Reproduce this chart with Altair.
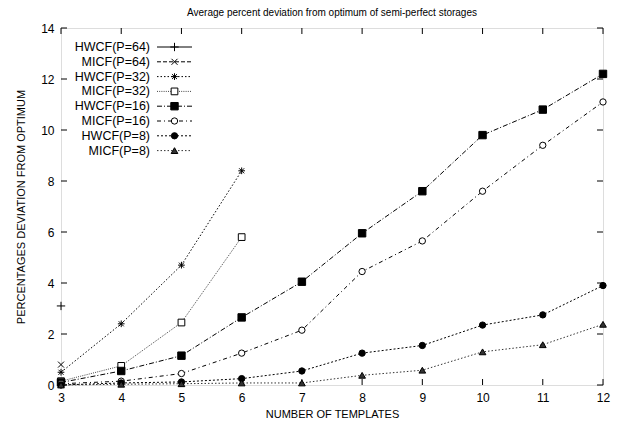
import altair as alt
import pandas as pd

# ---------------- data ----------------
series_names = ["HWCF(P=64)", "MICF(P=64)", "HWCF(P=32)", "MICF(P=32)",
                "HWCF(P=16)", "MICF(P=16)", "HWCF(P=8)", "MICF(P=8)"]

templates_full = [3, 4, 5, 6, 7, 8, 9, 10, 11, 12]
templates_p32 = [3, 4, 5, 6]

hwcf64_x = [3]
hwcf64_y = [3.1]
micf64_x = [3]
micf64_y = [0.8]
hwcf32_y = [0.5, 2.4, 4.7, 8.4]
micf32_y = [0.15, 0.75, 2.45, 5.8]
hwcf16_y = [0.1, 0.55, 1.15, 2.65, 4.05, 5.95, 7.6, 9.8, 10.8, 12.2]
micf16_y = [0.05, 0.15, 0.45, 1.25, 2.15, 4.45, 5.65, 7.6, 9.4, 11.1]
hwcf8_y = [0.0, 0.08, 0.12, 0.25, 0.55, 1.25, 1.55, 2.35, 2.75, 3.9]
micf8_y = [0.0, 0.03, 0.05, 0.08, 0.08, 0.38, 0.58, 1.3, 1.58, 2.38]

y_ticks = [0, 2, 4, 6, 8, 10, 12, 14]
x_ticks = [3, 4, 5, 6, 7, 8, 9, 10, 11, 12]

# ---------------- styling ----------------
W, H = 542, 357
FONT = "Liberation Sans"

PLUS = "M-1,0L1,0M0,-1L0,1"
XCROSS = "M-1,-1L1,1M-1,1L1,-1"
STAR = "M-1,0L1,0M0,-1L0,1M-0.75,-0.75L0.75,0.75M-0.75,0.75L0.75,-0.75"

styles = {
    "HWCF(P=64)": dict(dash=[1, 0], shape=PLUS, filled=False, size=70, color="black"),
    "MICF(P=64)": dict(dash=[4, 2], shape=XCROSS, filled=False, size=36, color="black"),
    "HWCF(P=32)": dict(dash=[1.5, 2], shape=STAR, filled=False, size=45, color="black"),
    "MICF(P=32)": dict(dash=[1, 1.2], shape="square", filled=False, size=45, color="#444444"),
    "HWCF(P=16)": dict(dash=[5, 2, 1, 2], shape="square", filled=True, size=55, color="black"),
    "MICF(P=16)": dict(dash=[4, 3, 1, 3], shape="circle", filled=False, size=40, color="black"),
    "HWCF(P=8)": dict(dash=[2, 2], shape="circle", filled=True, size=40, color="black"),
    "MICF(P=8)": dict(dash=[1.5, 2], shape="triangle-up", filled=True, size=45, color="#333333"),
}

data = {
    "HWCF(P=64)": (hwcf64_x, hwcf64_y),
    "MICF(P=64)": (micf64_x, micf64_y),
    "HWCF(P=32)": (templates_p32, hwcf32_y),
    "MICF(P=32)": (templates_p32, micf32_y),
    "HWCF(P=16)": (templates_full, hwcf16_y),
    "MICF(P=16)": (templates_full, micf16_y),
    "HWCF(P=8)": (templates_full, hwcf8_y),
    "MICF(P=8)": (templates_full, micf8_y),
}

x_scale = alt.Scale(domain=[3, 12], nice=False, zero=False)
y_scale = alt.Scale(domain=[0, 14], nice=False)

x_axis = alt.Axis(values=x_ticks, format="d", ticks=False, domain=False, grid=False,
                  labelFlush=False, labelOverlap=False,
                  labelFontSize=12, labelPadding=7, labelFont=FONT, labelColor="black",
                  title="NUMBER OF TEMPLATES", titleFontSize=11, titleFontWeight="normal",
                  titleFont=FONT, titlePadding=5, titleColor="black")
y_axis = alt.Axis(values=y_ticks, format="d", ticks=False, domain=False, grid=False,
                  labelFlush=False, labelOverlap=False,
                  labelFontSize=12, labelPadding=7, labelFont=FONT, labelColor="black",
                  title="PERCENTAGES DEVIATION FROM OPTIMUM", titleFontSize=11,
                  titleFontWeight="normal", titleFont=FONT, titlePadding=14, titleColor="black")

layers = []

# axes carrier + ticks (inward, mirrored on all sides)
xt = pd.DataFrame({"t": x_ticks})
yt = pd.DataFrame({"v": y_ticks})
layers.append(alt.Chart(xt).mark_rule(color="black", strokeWidth=1).encode(
    x=alt.X("t:Q", scale=x_scale, axis=x_axis), y=alt.value(H), y2=alt.value(H - 6)))
layers.append(alt.Chart(xt).mark_rule(color="black", strokeWidth=1).encode(
    x=alt.X("t:Q", scale=x_scale), y=alt.value(0), y2=alt.value(6)))
layers.append(alt.Chart(yt).mark_rule(color="black", strokeWidth=1).encode(
    y=alt.Y("v:Q", scale=y_scale, axis=y_axis), x=alt.value(0), x2=alt.value(6)))
layers.append(alt.Chart(yt).mark_rule(color="black", strokeWidth=1).encode(
    y=alt.Y("v:Q", scale=y_scale), x=alt.value(W), x2=alt.value(W - 6)))

# series
for name in series_names:
    xs, ys = data[name]
    st = styles[name]
    df = pd.DataFrame({"x": xs, "y": ys})
    if len(xs) > 1:
        layers.append(alt.Chart(df).mark_line(color=st["color"], strokeWidth=1,
                                              strokeDash=st["dash"]).encode(
            x=alt.X("x:Q", scale=x_scale), y=alt.Y("y:Q", scale=y_scale)))
    pt_kwargs = dict(shape=st["shape"], size=st["size"], opacity=1,
                     stroke="black", strokeWidth=1)
    if st["filled"]:
        pt_kwargs.update(filled=True, fill=st["color"])
    else:
        pt_kwargs.update(filled=False)
        if st["shape"] in ("square", "circle"):
            pt_kwargs["fill"] = "white"
    layers.append(alt.Chart(df).mark_point(**pt_kwargs).encode(
        x=alt.X("x:Q", scale=x_scale), y=alt.Y("y:Q", scale=y_scale)))

# legend (inside top-left)
for i, name in enumerate(series_names):
    st = styles[name]
    ry = 19 + 14.8 * i
    ldf = pd.DataFrame({"label": [name]})
    layers.append(alt.Chart(ldf).mark_text(align="right", baseline="middle", fontSize=12.5,
                                           font=FONT, color="black").encode(
        text="label:N", x=alt.value(89), y=alt.value(ry)))
    layers.append(alt.Chart(ldf).mark_rule(color=st["color"], strokeWidth=1,
                                           strokeDash=st["dash"]).encode(
        x=alt.value(96), x2=alt.value(131), y=alt.value(ry)))
    pt_kwargs = dict(shape=st["shape"], size=st["size"], opacity=1,
                     stroke="black", strokeWidth=1)
    if st["filled"]:
        pt_kwargs.update(filled=True, fill=st["color"])
    else:
        pt_kwargs.update(filled=False)
        if st["shape"] in ("square", "circle"):
            pt_kwargs["fill"] = "white"
    layers.append(alt.Chart(ldf).mark_point(**pt_kwargs).encode(
        x=alt.value(113.5), y=alt.value(ry)))

chart = alt.layer(*layers).properties(
    width=W, height=H,
    title=alt.Title("Average percent deviation from optimum of semi-perfect storages",
                    fontSize=10, fontWeight="normal", font=FONT, color="black",
                    anchor="middle", offset=4),
    autosize=alt.AutoSizeParams(type="none"),
    padding={"left": 53, "top": 20, "right": 12, "bottom": 33},
).configure_view(stroke="black", strokeWidth=1.5).configure(background="white")

chart.save("out.html", embed_options={"renderer": "svg", "actions": False})
